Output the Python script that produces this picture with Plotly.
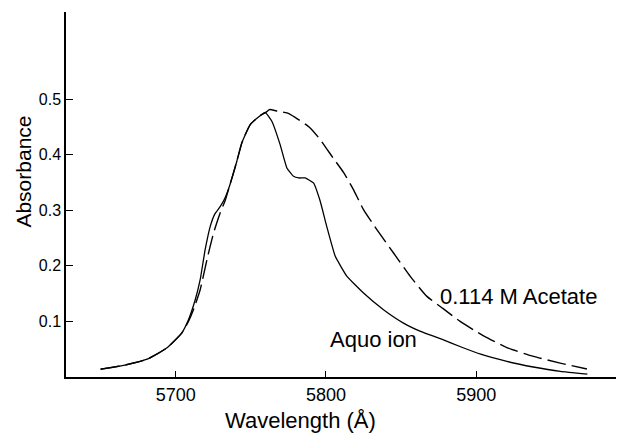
import plotly.graph_objects as go

# Aquo ion (solid)
aquo_wavelength = [5650, 5667, 5681, 5694, 5704, 5708.5, 5713, 5716.3, 5719.6, 5723, 5726,
                   5729.5, 5732.5, 5736, 5740.7, 5744, 5749.6, 5756.2, 5759.6, 5764, 5769.5,
                   5774, 5778.4, 5782, 5786.2, 5791.7, 5796.2, 5800.6, 5806.2, 5814, 5825,
                   5838.3, 5851.6, 5863, 5877, 5890, 5903, 5920.4, 5938, 5956, 5974]
aquo_absorbance = [0.014, 0.022, 0.032, 0.052, 0.079, 0.103, 0.139, 0.175, 0.229, 0.271, 0.293,
                   0.306, 0.32, 0.345, 0.388, 0.421, 0.454, 0.47, 0.476, 0.46, 0.418,
                   0.376, 0.361, 0.358, 0.358, 0.349, 0.316, 0.27, 0.217, 0.181, 0.151,
                   0.121, 0.097, 0.082, 0.068, 0.054, 0.041, 0.028, 0.018, 0.010, 0.005]

# 0.114 M Acetate (dashed)
acetate_wavelength = [5650, 5667, 5681, 5694, 5704, 5708.5, 5711.8, 5716.3, 5720.8, 5725.2,
                      5729.6, 5733, 5736, 5740.7, 5744, 5749.6, 5756.2, 5760, 5762.4, 5768,
                      5774, 5779.5, 5789.5, 5796.2, 5805, 5811.7, 5818.3, 5825, 5833.9, 5845,
                      5856.1, 5867.2, 5878, 5889.3, 5904.9, 5920.4, 5938.1, 5955.9, 5973.7]
acetate_absorbance = [0.014, 0.022, 0.032, 0.052, 0.079, 0.1, 0.121, 0.157, 0.211, 0.259,
                      0.295, 0.318, 0.345, 0.388, 0.421, 0.454, 0.47, 0.476, 0.481, 0.478,
                      0.475, 0.467, 0.448, 0.427, 0.393, 0.368, 0.337, 0.301, 0.265, 0.223,
                      0.181, 0.145, 0.123, 0.100, 0.074, 0.053, 0.037, 0.025, 0.0144]

x_ticks = [5700, 5800, 5900]
x_tick_labels = ["5700", "5800", "5900"]
y_ticks = [0.1, 0.2, 0.3, 0.4, 0.5]
y_tick_labels = ["0.1", "0.2", "0.3", "0.4", "0.5"]

FONT = "Liberation Sans, Arial, sans-serif"

fig = go.Figure()
fig.add_trace(go.Scatter(x=aquo_wavelength, y=aquo_absorbance, mode="lines",
                         line=dict(color="black", width=1.3, shape="spline", smoothing=0.35),
                         name="Aquo ion", showlegend=False))
fig.add_trace(go.Scatter(x=acetate_wavelength, y=acetate_absorbance, mode="lines",
                         line=dict(color="black", width=1.4, dash="19px,6px",
                                   shape="spline", smoothing=0.5),
                         name="0.114 M Acetate", showlegend=False))

# page body has an 8px margin; size/margins compensate so the plot lands where the reference has it
fig.update_layout(
    width=616, height=425,
    margin=dict(l=58, r=1, t=4, b=56),
    paper_bgcolor="white", plot_bgcolor="white",
    font=dict(family=FONT, color="black"),
    xaxis=dict(range=[5627, 5997.7], showgrid=False, zeroline=False,
               showline=True, linecolor="black", linewidth=2,
               ticks="inside", ticklen=6, tickwidth=1.2, tickcolor="black",
               tickvals=x_ticks, ticktext=x_tick_labels,
               tickfont=dict(size=18, family=FONT)),
    yaxis=dict(range=[0, 0.6565], showgrid=False, zeroline=False,
               showline=True, linecolor="black", linewidth=1.5,
               ticks="inside", ticklen=7, tickwidth=1.2, tickcolor="black",
               tickvals=y_ticks, ticktext=y_tick_labels,
               tickfont=dict(size=16, family=FONT)),
    annotations=[
        dict(text="Absorbance", xref="paper", yref="paper", x=-0.078, y=0.5616,
             textangle=-90, showarrow=False, font=dict(size=21, family=FONT),
             xanchor="center", yanchor="middle"),
        dict(text="Wavelength (Å)", xref="paper", yref="paper", x=0.421, y=-0.1205,
             showarrow=False, font=dict(size=22, family=FONT),
             xanchor="center", yanchor="middle"),
        dict(text="0.114 M Acetate", xref="x", yref="y", x=5874.6, y=0.144,
             showarrow=False, font=dict(size=22, family=FONT),
             xanchor="left", yanchor="middle"),
        dict(text="Aquo ion", xref="x", yref="y", x=5801.4, y=0.068,
             showarrow=False, font=dict(size=22, family=FONT),
             xanchor="left", yanchor="middle"),
    ],
)

fig.write_html("out.html")
